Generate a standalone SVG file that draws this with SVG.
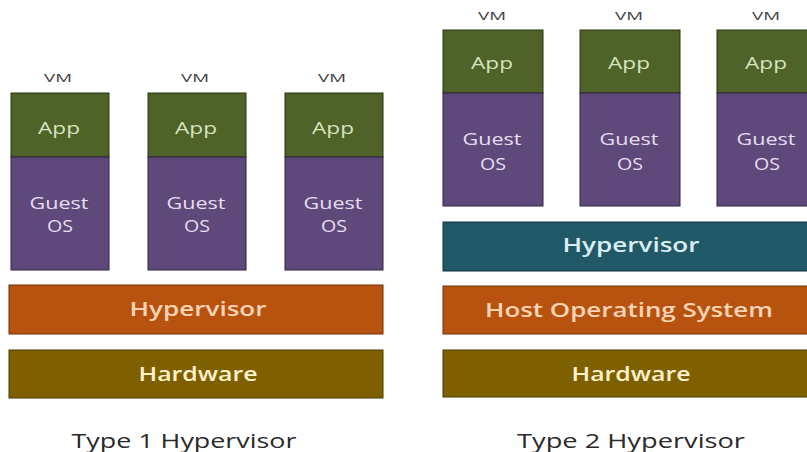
<svg xmlns="http://www.w3.org/2000/svg" width="807" height="452" viewBox="0 0 807 452">
<style>
text{font-family:"Open Sans","Liberation Sans",sans-serif;text-anchor:middle;dominant-baseline:central}
.app{fill:#4f6228;stroke:#2a3315;stroke-width:1}
.os{fill:#5f497a;stroke:#2e2340;stroke-width:1}
.hyp{fill:#b8520f;stroke:#6e3008;stroke-width:1}
.hw{fill:#7f6000;stroke:#4a3800;stroke-width:1}
.hyp2{fill:#215968;stroke:#10323b;stroke-width:1}
.tapp{fill:#d7e4bd;font-size:17px}
.tos{fill:#e5dff0;font-size:17px}
.thyp{fill:#fbd5b5;font-size:19px;font-weight:600}
.thw{fill:#fff2cc;font-size:19px;font-weight:600}
.thyp2{fill:#dbeef4;font-size:19px;font-weight:600}
.vm{fill:#404040;font-size:11px}
.title{fill:#2a2a2a;font-size:20px}
</style>
<g id="t1-vm1"><text class="vm" x="58" y="77" textLength="28" lengthAdjust="spacingAndGlyphs">VM</text><rect class="app" x="11" y="93" width="98" height="64"/><rect class="os" x="11" y="157" width="98" height="113"/><text class="tapp" x="59" y="127" textLength="42" lengthAdjust="spacingAndGlyphs">App</text><text class="tos" x="59" y="202" textLength="59" lengthAdjust="spacingAndGlyphs">Guest</text><text class="tos" x="60" y="225" textLength="26" lengthAdjust="spacingAndGlyphs">OS</text></g>
<g id="t1-vm2"><text class="vm" x="195" y="77" textLength="28" lengthAdjust="spacingAndGlyphs">VM</text><rect class="app" x="148" y="93" width="98" height="64"/><rect class="os" x="148" y="157" width="98" height="113"/><text class="tapp" x="196" y="127" textLength="42" lengthAdjust="spacingAndGlyphs">App</text><text class="tos" x="196" y="202" textLength="59" lengthAdjust="spacingAndGlyphs">Guest</text><text class="tos" x="197" y="225" textLength="26" lengthAdjust="spacingAndGlyphs">OS</text></g>
<g id="t1-vm3"><text class="vm" x="332" y="77" textLength="28" lengthAdjust="spacingAndGlyphs">VM</text><rect class="app" x="285" y="93" width="98" height="64"/><rect class="os" x="285" y="157" width="98" height="113"/><text class="tapp" x="333" y="127" textLength="42" lengthAdjust="spacingAndGlyphs">App</text><text class="tos" x="333" y="202" textLength="59" lengthAdjust="spacingAndGlyphs">Guest</text><text class="tos" x="334" y="225" textLength="26" lengthAdjust="spacingAndGlyphs">OS</text></g>
<g id="t1-hypervisor"><rect class="hyp" x="9" y="285" width="374" height="49"/><text class="thyp" x="198" y="309" textLength="137" lengthAdjust="spacingAndGlyphs">Hypervisor</text></g>
<g id="t1-hardware"><rect class="hw" x="9" y="350" width="374" height="48"/><text class="thw" x="198" y="374" textLength="119" lengthAdjust="spacingAndGlyphs">Hardware</text></g>
<g id="t1-title"><text class="title" x="184" y="440" textLength="225" lengthAdjust="spacingAndGlyphs">Type 1 Hypervisor</text></g>

<g id="t2-vm1"><text class="vm" x="492" y="15" textLength="28" lengthAdjust="spacingAndGlyphs">VM</text><rect class="app" x="443" y="30" width="100" height="63"/><rect class="os" x="443" y="93" width="100" height="113"/><text class="tapp" x="492" y="62" textLength="42" lengthAdjust="spacingAndGlyphs">App</text><text class="tos" x="492" y="138" textLength="59" lengthAdjust="spacingAndGlyphs">Guest</text><text class="tos" x="493" y="163" textLength="26" lengthAdjust="spacingAndGlyphs">OS</text></g>
<g id="t2-vm2"><text class="vm" x="629" y="15" textLength="28" lengthAdjust="spacingAndGlyphs">VM</text><rect class="app" x="580" y="30" width="100" height="63"/><rect class="os" x="580" y="93" width="100" height="113"/><text class="tapp" x="629" y="62" textLength="42" lengthAdjust="spacingAndGlyphs">App</text><text class="tos" x="629" y="138" textLength="59" lengthAdjust="spacingAndGlyphs">Guest</text><text class="tos" x="630" y="163" textLength="26" lengthAdjust="spacingAndGlyphs">OS</text></g>
<g id="t2-vm3"><text class="vm" x="766" y="15" textLength="28" lengthAdjust="spacingAndGlyphs">VM</text><rect class="app" x="717" y="30" width="100" height="63"/><rect class="os" x="717" y="93" width="100" height="113"/><text class="tapp" x="766" y="62" textLength="42" lengthAdjust="spacingAndGlyphs">App</text><text class="tos" x="766" y="138" textLength="59" lengthAdjust="spacingAndGlyphs">Guest</text><text class="tos" x="767" y="163" textLength="26" lengthAdjust="spacingAndGlyphs">OS</text></g>
<g id="t2-hypervisor"><rect class="hyp2" x="443" y="222" width="370" height="49"/><text class="thyp2" x="631" y="245" textLength="137" lengthAdjust="spacingAndGlyphs">Hypervisor</text></g>
<g id="t2-hostos"><rect class="hyp" x="443" y="286" width="370" height="48"/><text class="thyp" x="629" y="310" textLength="288" lengthAdjust="spacingAndGlyphs">Host Operating System</text></g>
<g id="t2-hardware"><rect class="hw" x="443" y="350" width="370" height="47"/><text class="thw" x="631" y="374" textLength="119" lengthAdjust="spacingAndGlyphs">Hardware</text></g>
<g id="t2-title"><text class="title" x="631" y="440" textLength="228" lengthAdjust="spacingAndGlyphs">Type 2 Hypervisor</text></g>
</svg>
